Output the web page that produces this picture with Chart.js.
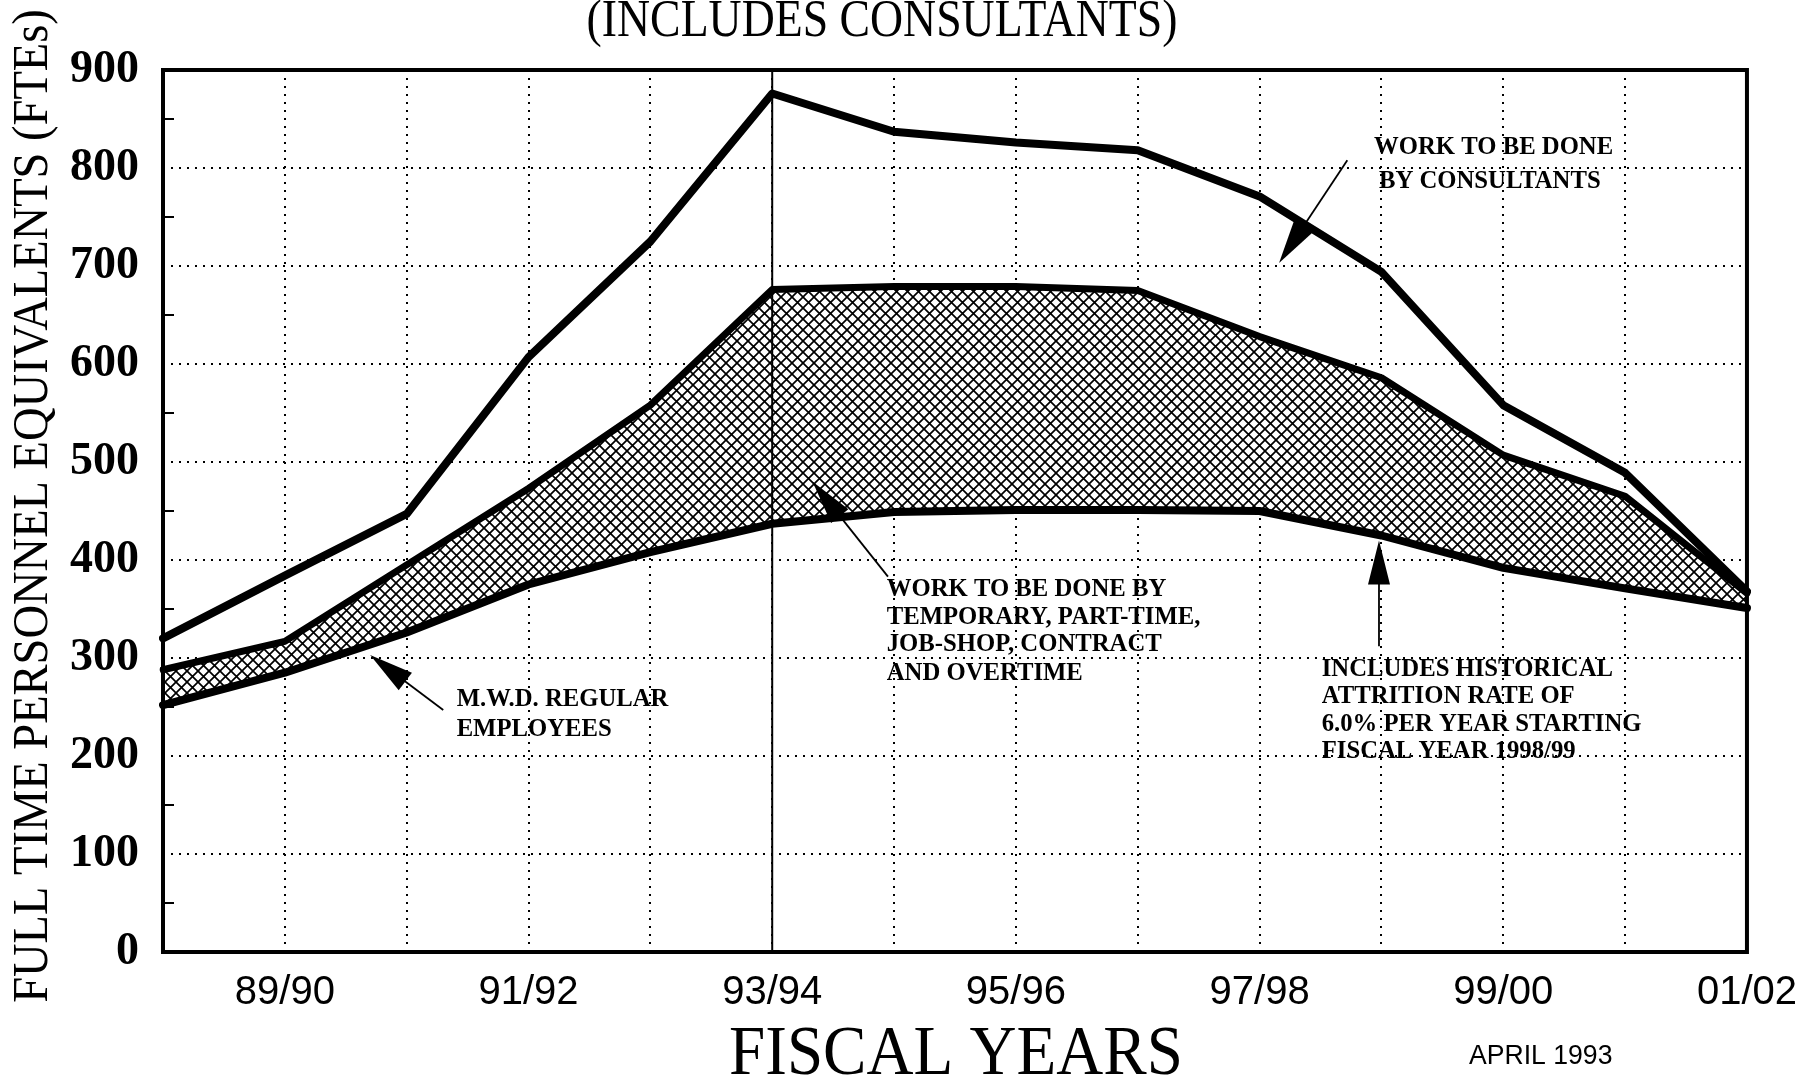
<!DOCTYPE html>
<html>
<head>
<meta charset="utf-8">
<script src="https://cdn.jsdelivr.net/npm/chart.js@4.4.1/dist/chart.umd.min.js"></script>
<style>
html,body{margin:0;padding:0;background:#fff;overflow:hidden}
#wrap{width:1814px;height:1080px;position:relative}
</style>
</head>
<body>
<div id="wrap"><canvas id="c" width="1814" height="1080"></canvas></div>
<script>
// ---- data ----
const categories = ['88/89','89/90','90/91','91/92','92/93','93/94','94/95','95/96','96/97','97/98','98/99','99/00','00/01','01/02'];
const consultantsTotal = [320, 384, 447, 607, 725, 876, 837, 826, 818, 771, 694, 558, 489, 368];
const temporaryTotal   = [288, 317, 395, 473, 558, 676, 679, 679, 675, 628, 586, 507, 465, 366];
const regularEmployees = [252, 285, 326, 375, 408, 437, 449, 451, 451, 450, 425, 392, 371, 351];
const shownXLabels = ['89/90','91/92','93/94','95/96','97/98','99/00','01/02'];
const yMin = 0, yMax = 900, yStep = 100;

const titleText = '(INCLUDES CONSULTANTS)';
const yTitleText = 'FULL TIME PERSONNEL EQUIVALENTS (FTEs)';
const xTitleText = 'FISCAL YEARS';
const dateText = 'APRIL 1993';

// annotations: lines of text anchored in data space (category index, value)
const notes = [
  {lines:['WORK TO BE DONE','BY CONSULTANTS'], x:[9.94, 9.98], y:[814, 780]},
  {lines:['WORK TO BE DONE BY','TEMPORARY, PART-TIME,','JOB-SHOP, CONTRACT','AND OVERTIME'], x:[5.94,5.94,5.94,5.94], y:[363,335,307,278]},
  {lines:['M.W.D. REGULAR','EMPLOYEES'], x:[2.41,2.41], y:[251,220]},
  {lines:['INCLUDES HISTORICAL','ATTRITION RATE OF','6.0% PER YEAR STARTING','FISCAL YEAR 1998/99'], x:[9.51,9.51,9.51,9.51], y:[282,254,226,198]}
];
const arrows = [
  {from:[9.72, 808], to:[9.16, 703]},
  {from:[5.95, 383], to:[5.33, 480]},
  {from:[2.30, 247], to:[1.70, 303]},
  {from:[9.98, 312], to:[9.98, 420]}
];

const ctx0 = document.getElementById('c').getContext('2d');
function makeHatch(){
  const s = 11;
  const c = document.createElement('canvas');
  c.width = s; c.height = s;
  const g = c.getContext('2d');
  g.fillStyle = '#fff'; g.fillRect(0,0,s,s);
  g.strokeStyle = '#000'; g.lineWidth = 1.7;
  g.beginPath();
  g.moveTo(-2,-2); g.lineTo(s+2,s+2);
  g.moveTo(s+2,-2); g.lineTo(-2,s+2);
  g.stroke();
  return ctx0.createPattern(c,'repeat');
}
const hatch = makeHatch();

function condensedText(ctx, text, x, y, font, sx, align){
  ctx.save();
  ctx.font = font;
  ctx.textAlign = align || 'center';
  ctx.translate(x, y);
  ctx.scale(sx, 1);
  ctx.fillText(text, 0, 0);
  ctx.restore();
}

const decor = {
  id:'decor',
  beforeDatasetsDraw(chart){
    const {ctx, chartArea:a, scales:{x}} = chart;
    const px = x.getPixelForValue(5);
    ctx.save();
    ctx.strokeStyle = '#000'; ctx.lineWidth = 2;
    ctx.beginPath(); ctx.moveTo(px, a.top); ctx.lineTo(px, a.bottom); ctx.stroke();
    ctx.restore();
  },
  afterDraw(chart){
    const {ctx, chartArea:a, scales:{x, y}} = chart;
    ctx.save();
    // frame
    ctx.strokeStyle = '#000'; ctx.lineWidth = 4;
    ctx.strokeRect(a.left, a.top, a.right - a.left, a.bottom - a.top);
    // minor ticks at 50s
    ctx.lineWidth = 2;
    for (let v = 50; v < yMax; v += 100) {
      const py = y.getPixelForValue(v);
      ctx.beginPath(); ctx.moveTo(a.left, py); ctx.lineTo(a.left + 11, py); ctx.stroke();
    }
    ctx.fillStyle = '#000';
    ctx.textBaseline = 'alphabetic';
    // title
    condensedText(ctx, titleText, 882, 36, '52px "Liberation Serif"', 0.88, 'center');
    // y title
    ctx.save();
    ctx.translate(34, 506);
    ctx.rotate(-Math.PI/2);
    ctx.scale(0.93, 1);
    ctx.font = '50px "Liberation Serif"';
    ctx.textAlign = 'center'; ctx.textBaseline = 'middle';
    ctx.fillText(yTitleText, 0, 0);
    ctx.restore();
    // x title
    ctx.textBaseline = 'alphabetic';
    condensedText(ctx, xTitleText, 956, 1074, '70px "Liberation Serif"', 0.93, 'center');
    condensedText(ctx, dateText, 1469, 1064, '28px "Liberation Sans"', 0.95, 'left');
    // annotations
    ctx.textAlign = 'left'; ctx.textBaseline = 'alphabetic';
    notes.forEach(n => n.lines.forEach((t,i) => {
      condensedText(ctx, t, x.getPixelForValue(n.x[i]), y.getPixelForValue(n.y[i]), 'bold 26px "Liberation Serif"', 0.95, 'left');
    }));
    // arrows
    arrows.forEach(ar => {
      const x1 = x.getPixelForValue(ar.from[0]), y1 = y.getPixelForValue(ar.from[1]);
      const x2 = x.getPixelForValue(ar.to[0]),   y2 = y.getPixelForValue(ar.to[1]);
      const ang = Math.atan2(y2 - y1, x2 - x1);
      const L = 44, W = 11;
      ctx.lineWidth = 1.8;
      ctx.beginPath(); ctx.moveTo(x1, y1);
      ctx.lineTo(x2 - Math.cos(ang)*L*0.8, y2 - Math.sin(ang)*L*0.8); ctx.stroke();
      const bx = x2 - Math.cos(ang)*L, by = y2 - Math.sin(ang)*L;
      ctx.beginPath();
      ctx.moveTo(x2, y2);
      ctx.lineTo(bx + Math.sin(ang)*W, by - Math.cos(ang)*W);
      ctx.lineTo(bx - Math.sin(ang)*W, by + Math.cos(ang)*W);
      ctx.closePath(); ctx.fill();
    });
    ctx.restore();
  }
};

new Chart(ctx0, {
  type: 'line',
  data: {
    labels: categories,
    datasets: [
      {label:'Consultants', data: consultantsTotal, borderColor:'#000', borderWidth:8, pointRadius:0, fill:false, tension:0, borderJoinStyle:'round', borderCapStyle:'round'},
      {label:'Temporary', data: temporaryTotal, borderColor:'#000', borderWidth:7, pointRadius:0, fill:2, backgroundColor: hatch, tension:0, borderJoinStyle:'round', borderCapStyle:'round'},
      {label:'Regular', data: regularEmployees, borderColor:'#000', borderWidth:8, pointRadius:0, fill:false, tension:0, borderJoinStyle:'round', borderCapStyle:'round'}
    ]
  },
  options: {
    responsive:false, animation:false, devicePixelRatio:1,
    layout:{padding:{top:70, right:66, left:0, bottom:0}},
    plugins:{legend:{display:false}, tooltip:{enabled:false}, title:{display:false}, filler:{drawTime:'beforeDatasetsDraw'}},
    scales:{
      x:{
        offset:false,
        grid:{color:'#000', lineWidth:2, drawTicks:false, offset:false},
        border:{display:false, dash:[2,6]},
        ticks:{color:'#000', font:{family:'Liberation Sans', size:40}, padding:17, maxRotation:0, autoSkip:false,
          callback:(v,i)=> shownXLabels.includes(categories[i]) ? categories[i] : ''},
        afterFit:s=>{s.height = 128;}
      },
      y:{
        min:yMin, max:yMax,
        grid:{color:'#000', lineWidth:2, drawTicks:false},
        border:{display:false, dash:[2,6]},
        ticks:{stepSize:yStep, color:'#000', font:{family:'Liberation Serif', size:46, weight:'bold'}, padding:24},
        afterFit:s=>{s.width = 163;}
      }
    }
  },
  plugins:[decor]
});
</script>
</body>
</html>
